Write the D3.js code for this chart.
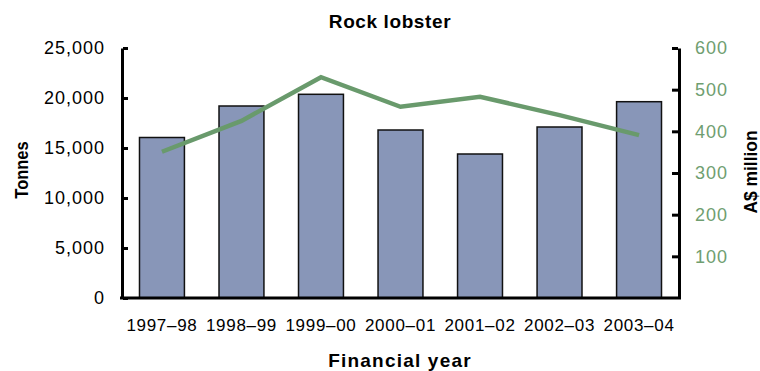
<!DOCTYPE html>
<html>
<head>
<meta charset="utf-8">
<script src="https://cdn.jsdelivr.net/npm/d3@7"></script>
<style>
  html, body { margin: 0; padding: 0; background: #fff; }
  svg { display: block; font-family: "Liberation Sans", Arial, sans-serif; }
</style>
</head>
<body>
<svg id="chart" width="760" height="371"></svg>
<script>
// Rock lobster catch (tonnes) and value (A$ million) by financial year
const years = ["1997–98", "1998–99", "1999–00", "2000–01", "2001–02", "2002–03", "2003–04"];
const tonnes = [16050, 19200, 20370, 16800, 14400, 17100, 19630];
const valueMillion = [351, 425, 530, 459, 483, 439, 391];
const leftTicks = [0, 5000, 10000, 15000, 20000, 25000];
const rightTicks = [100, 200, 300, 400, 500, 600];

const svg = d3.select("#chart");
const plot = { left: 122, right: 679, top: 48, bottom: 298 };

const x = d3.scaleBand().domain(years).range([plot.left, plot.right]).paddingInner(0.435).paddingOuter(0.22);
const yL = d3.scaleLinear().domain([0, 25000]).range([plot.bottom, plot.top]);
const yR = d3.scaleLinear().domain([0, 600]).range([plot.bottom, plot.top]);

const barFill = "#8896b8";
const lineColor = "#699a6c";
const rightText = "#6f9e70";
const font = "Liberation Sans, Arial, sans-serif";

// Bars
svg.append("g").selectAll("rect").data(years).join("rect")
  .attr("x", d => x(d))
  .attr("y", (d, i) => yL(tonnes[i]))
  .attr("width", x.bandwidth())
  .attr("height", (d, i) => yL(0) - yL(tonnes[i]))
  .attr("fill", barFill)
  .attr("stroke", "#111")
  .attr("stroke-width", 1.5);

// Value line
const line = d3.line()
  .x((d, i) => x(years[i]) + x.bandwidth() / 2)
  .y(d => yR(d));
svg.append("path").datum(valueMillion)
  .attr("d", line)
  .attr("fill", "none")
  .attr("stroke", lineColor)
  .attr("stroke-width", 4.5)
  .attr("stroke-linejoin", "miter");

// Left axis
const gL = svg.append("g").attr("transform", `translate(${plot.left},0)`)
  .call(d3.axisLeft(yL).tickValues(leftTicks).tickFormat(d3.format(",")).tickSizeInner(-6).tickSizeOuter(0).tickPadding(17));
gL.select(".domain").attr("stroke", "#000").attr("stroke-width", 3);
gL.selectAll(".tick line").attr("stroke", "#000").attr("stroke-width", 3).attr("x1", 1).attr("x2", 6);
gL.selectAll(".tick text").attr("fill", "#000").attr("font-size", 18).attr("letter-spacing", 1).attr("font-family", font);

// Right axis
const gR = svg.append("g").attr("transform", `translate(${plot.right},0)`)
  .call(d3.axisRight(yR).tickValues(rightTicks).tickSizeInner(-7).tickSizeOuter(0).tickPadding(16));
gR.select(".domain").attr("stroke", "#000").attr("stroke-width", 3);
gR.selectAll(".tick line").attr("stroke", "#000").attr("stroke-width", 3).attr("x1", -1).attr("x2", -7);
gR.selectAll(".tick text").attr("fill", rightText).attr("font-size", 18).attr("letter-spacing", 1).attr("font-family", font);

// Bottom axis
const gB = svg.append("g").attr("transform", `translate(0,${plot.bottom})`)
  .call(d3.axisBottom(x).tickSize(0).tickPadding(21));
gB.select(".domain").attr("stroke", "#000").attr("stroke-width", 3)
  .attr("d", `M${plot.left - 2},0H${plot.right + 2}`);
gB.selectAll(".tick text").attr("fill", "#000").attr("font-size", 17).attr("letter-spacing", 0.7).attr("font-family", font);

// Titles
svg.append("text").attr("x", 390).attr("y", 28).attr("text-anchor", "middle")
  .attr("font-size", 19).attr("font-weight", "bold").attr("letter-spacing", 0.6)
  .text("Rock lobster");
svg.append("text").attr("x", 400).attr("y", 367).attr("text-anchor", "middle")
  .attr("font-size", 19).attr("font-weight", "bold").attr("letter-spacing", 1.2)
  .text("Financial year");
svg.append("text").attr("transform", "translate(27.5,170) scale(1.06,1) rotate(-90)").attr("text-anchor", "middle")
  .attr("font-size", 16.5).attr("font-weight", "bold")
  .text("Tonnes");
svg.append("text").attr("transform", "translate(757,172) scale(1.06,1) rotate(-90)").attr("text-anchor", "middle")
  .attr("font-size", 17.4).attr("font-weight", "bold")
  .text("A$ million");
</script>
</body>
</html>
